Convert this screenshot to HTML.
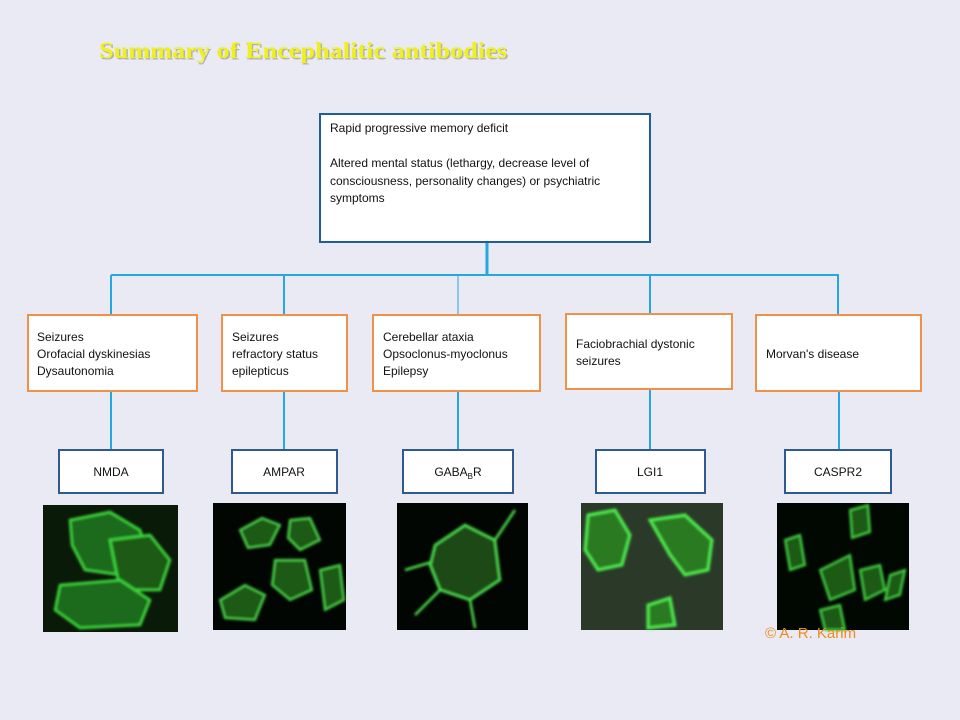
<!DOCTYPE html>
<html><head><meta charset="utf-8"><style>
html,body{margin:0;padding:0;}
body{width:960px;height:720px;background:#e9eaf3;overflow:hidden;}
svg{display:block;font-family:"Liberation Sans",sans-serif;}
</style></head><body>
<svg width="960" height="720" viewBox="0 0 960 720" xmlns="http://www.w3.org/2000/svg">
<defs>
<filter id="gl" x="-20%" y="-20%" width="140%" height="140%"><feGaussianBlur stdDeviation="1.2"/></filter>
</defs>
<rect width="960" height="720" fill="#e9eaf3"/>
<text x="99" y="58" font-family="Liberation Serif,serif" font-weight="bold" font-size="23" fill="#8a8a60" opacity="0.55" transform="translate(1.5,1.5)" textLength="408" lengthAdjust="spacingAndGlyphs">Summary of Encephalitic antibodies</text>
<text x="99" y="58" font-family="Liberation Serif,serif" font-weight="bold" font-size="23" fill="#f0f020" textLength="408" lengthAdjust="spacingAndGlyphs">Summary of Encephalitic antibodies</text>

<g stroke="#25a8e0" stroke-width="2" fill="none">
<line x1="487" y1="242" x2="487" y2="276" stroke-width="3"/>
<line x1="111" y1="275" x2="839" y2="275"/>
<line x1="111" y1="275" x2="111" y2="315"/>
<line x1="284" y1="275" x2="284" y2="315"/>
<line x1="458" y1="275" x2="458" y2="315" stroke-width="1"/>
<line x1="650" y1="275" x2="650" y2="313"/>
<line x1="838" y1="275" x2="838" y2="315"/>
<line x1="111" y1="391" x2="111" y2="449"/>
<line x1="284" y1="391" x2="284" y2="449"/>
<line x1="458" y1="391" x2="458" y2="449"/>
<line x1="650" y1="389" x2="650" y2="449"/>
<line x1="839" y1="391" x2="839" y2="449"/>
</g>

<rect x="320" y="114" width="330" height="128" fill="#fff" stroke="#1f5f99" stroke-width="2"/>
<g font-size="12" fill="#111">
<text x="330" y="132">Rapid progressive memory deficit</text>
<text x="330" y="167">Altered mental status (lethargy, decrease level of</text>
<text x="330" y="185">consciousness, personality changes) or psychiatric</text>
<text x="330" y="202">symptoms</text>
</g>

<g fill="#fff" stroke="#f0914a" stroke-width="2">
<rect x="28" y="315" width="169" height="76"/>
<rect x="222" y="315" width="125" height="76"/>
<rect x="373" y="315" width="167" height="76"/>
<rect x="566" y="314" width="166" height="75"/>
<rect x="756" y="315" width="165" height="76"/>
</g>
<g font-size="12" fill="#111">
<text x="37" y="341">Seizures</text><text x="37" y="358">Orofacial dyskinesias</text><text x="37" y="375">Dysautonomia</text>
<text x="232" y="341">Seizures</text><text x="232" y="358">refractory status</text><text x="232" y="375">epilepticus</text>
<text x="383" y="341">Cerebellar ataxia</text><text x="383" y="358">Opsoclonus-myoclonus</text><text x="383" y="375">Epilepsy</text>
<text x="576" y="348">Faciobrachial dystonic</text><text x="576" y="365">seizures</text>
<text x="766" y="358">Morvan's disease</text>
</g>

<g fill="#fff" stroke="#2e5a90" stroke-width="2">
<rect x="59" y="450" width="104" height="43"/>
<rect x="232" y="450" width="105" height="43"/>
<rect x="403" y="450" width="110" height="43"/>
<rect x="596" y="450" width="109" height="43"/>
<rect x="785" y="450" width="106" height="43"/>
</g>
<g font-size="12" fill="#111" text-anchor="middle">
<text x="111" y="476">NMDA</text>
<text x="284" y="476">AMPAR</text>
<text x="458" y="476">GABA<tspan font-size="8" dy="3">B</tspan><tspan dy="-3">R</tspan></text>
<text x="650" y="476">LGI1</text>
<text x="838" y="476">CASPR2</text>
</g>

<rect x="43" y="505" width="135" height="127" fill="#0a1a08"/>
<g fill="none" stroke="#3cdc3c" stroke-width="2.5" filter="url(#gl)">
<path d="M70 520 L110 512 L140 530 L150 560 L120 575 L85 570 L72 545 Z" fill="#1f6a1a"/>
<path d="M110 540 L150 535 L170 560 L160 590 L120 590 Z" fill="#1a5a16"/>
<path d="M60 585 L120 580 L150 600 L140 625 L80 628 L55 610 Z" fill="#1f6a1a"/>
</g>
<rect x="213" y="503" width="133" height="127" fill="#020602"/>
<g fill="#1d5a16" stroke="#4ee04e" stroke-width="2" filter="url(#gl)">
<path d="M240 530 L262 518 L280 525 L270 545 L248 548 Z"/>
<path d="M290 520 L310 518 L320 540 L300 550 L288 538 Z"/>
<path d="M220 600 L245 585 L265 595 L255 620 L225 618 Z"/>
<path d="M275 560 L305 560 L312 590 L290 600 L272 585 Z"/>
<path d="M320 570 L340 565 L344 600 L325 610 Z"/>
</g>
<rect x="397" y="503" width="131" height="127" fill="#020602"/>
<g fill="#1c4a14" stroke="#4ee04e" stroke-width="2.5" filter="url(#gl)">
<path d="M435 545 L465 525 L495 540 L500 580 L470 600 L440 590 L430 565 Z"/>
<path d="M495 540 L515 510 M405 570 L432 562 M470 600 L475 628 M440 590 L415 615" fill="none"/>
</g>
<rect x="581" y="503" width="142" height="127" fill="#2b3a28"/>
<g fill="#2c7a22" stroke="#4ef04e" stroke-width="3" filter="url(#gl)">
<path d="M588 515 L615 510 L630 535 L622 565 L598 570 L585 550 Z"/>
<path d="M650 520 L685 515 L712 540 L708 570 L685 575 L670 555 Z"/>
<path d="M648 605 L670 598 L675 625 L648 628 Z"/>
</g>
<rect x="777" y="503" width="132" height="127" fill="#010801"/>
<g fill="#1a5a14" stroke="#44d844" stroke-width="2" filter="url(#gl)">
<path d="M850 510 L868 505 L870 532 L852 538 Z"/>
<path d="M785 540 L800 535 L805 565 L790 570 Z"/>
<path d="M820 570 L850 555 L855 590 L830 600 Z"/>
<path d="M860 570 L880 565 L885 590 L865 600 Z"/>
<path d="M890 575 L905 570 L900 595 L885 600 Z"/>
<path d="M820 610 L840 605 L845 630 L825 630 Z"/>
</g>
<text x="765" y="638" font-size="15" fill="#f08a1c">© A. R. Karim</text>
</svg>
</body></html>
